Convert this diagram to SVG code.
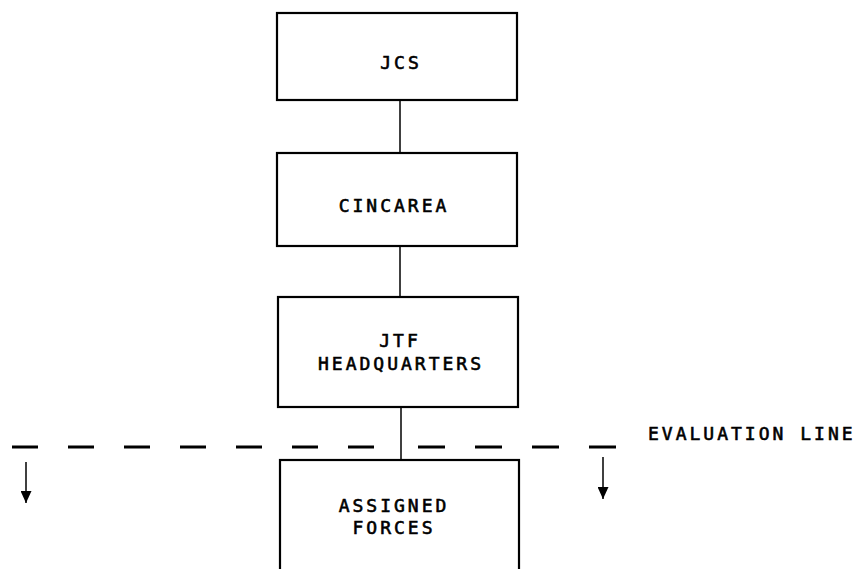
<svg xmlns="http://www.w3.org/2000/svg" width="859" height="569" viewBox="0 0 859 569">
<style>
.box{fill:#fff;stroke:#000;stroke-width:2.2}
.t{font-family:"DejaVu Sans Mono","Liberation Mono",monospace;font-size:18px;letter-spacing:3px;fill:#000;stroke:#000;stroke-width:0.6}
.c{stroke:#000;stroke-width:1.5;fill:none}
.d{stroke:#000;stroke-width:3;fill:none}
</style>
<defs>
<marker id="ah" markerWidth="12" markerHeight="11" refX="12" refY="5.5" orient="auto" markerUnits="userSpaceOnUse" viewBox="0 0 12 11">
<path d="M0,0 L12,5.5 L0,11 Z" fill="#000"/>
</marker>
</defs>
<rect width="859" height="569" fill="#fff"/>
<g id="connectors">
<line class="c" x1="400" y1="100" x2="400" y2="153"/>
<line class="c" x1="400" y1="246" x2="400" y2="297"/>
<line class="c" x1="401" y1="407" x2="401" y2="460"/>
<path class="d" d="M12,447 H375" stroke-dasharray="26 30"/>
<path class="d" d="M418,447 H618" stroke-dasharray="27 30"/>
<line class="c" x1="26" y1="462" x2="26" y2="503" marker-end="url(#ah)"/>
<line class="c" x1="603" y1="457" x2="603" y2="499" marker-end="url(#ah)"/>
</g>
<g id="jcs">
<rect class="box" x="277" y="13" width="240" height="87"/>
<text class="t" x="401" y="69" text-anchor="middle">JCS</text>
</g>
<g id="cincarea">
<rect class="box" x="277" y="153" width="240" height="93"/>
<text class="t" x="394" y="212" text-anchor="middle">CINCAREA</text>
</g>
<g id="jtf">
<rect class="box" x="278" y="297" width="240" height="110"/>
<text class="t" x="400" y="347" text-anchor="middle">JTF</text>
<text class="t" x="401" y="370" text-anchor="middle">HEADQUARTERS</text>
</g>
<g id="assigned">
<rect class="box" x="280" y="460" width="239" height="130"/>
<text class="t" x="394" y="512" text-anchor="middle">ASSIGNED</text>
<text class="t" x="394" y="534" text-anchor="middle">FORCES</text>
</g>
<g id="evaluation">
<text class="t" x="648" y="440">EVALUATION LINE</text>
</g>
</svg>
